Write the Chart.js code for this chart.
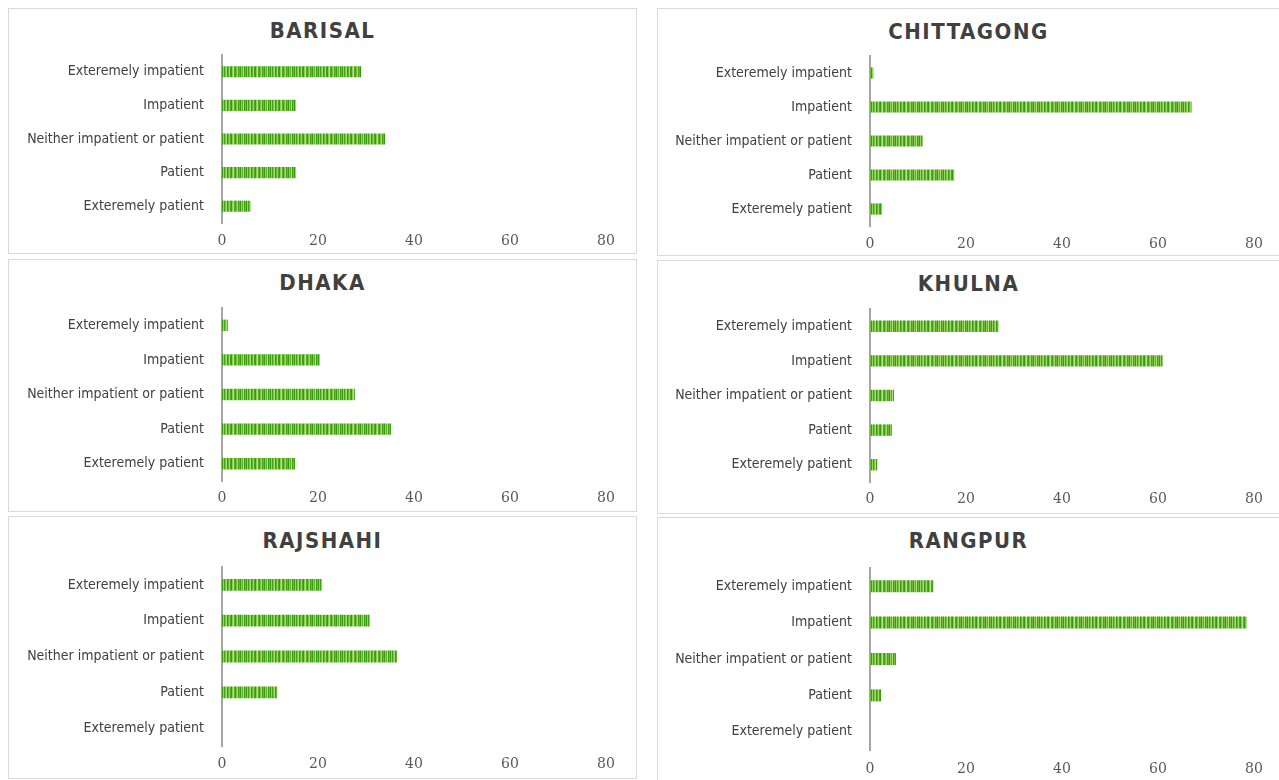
<!DOCTYPE html>
<html>
<head>
<meta charset="utf-8">
<script src="https://cdn.jsdelivr.net/npm/chart.js@4.4.1/dist/chart.umd.min.js"></script>
<style>
  body { margin: 0; background: #fff; width: 1279px; height: 780px; overflow: hidden; position: relative; }
  .panel { position: absolute; border: 1px solid #d9d9d9; box-sizing: border-box; }
  .panel canvas { position: absolute; left: -1px; top: -1px; }
  .panel h2 {
    position: absolute; left: 0; right: 0; margin: 0; text-align: center;
    font: bold 22px "DejaVu Sans Condensed", "DejaVu Sans", sans-serif;
    font-stretch: condensed;
    letter-spacing: 1.5px; color: #404040; line-height: 24px;
  }
</style>
</head>
<body>
<script>
// Survey answers per division (percent of respondents)
const categories = [
  'Exteremely impatient',
  'Impatient',
  'Neither impatient or patient',
  'Patient',
  'Exteremely patient',
];
const regions = ['BARISAL', 'CHITTAGONG', 'DHAKA', 'KHULNA', 'RAJSHAHI', 'RANGPUR'];

const barisal = [29, 15.4, 34, 15.4, 6];
const chittagong = [0.7, 67, 11, 17.6, 2.5];
const dhaka = [1.2, 20.4, 27.7, 35.2, 15.2];
const khulna = [26.8, 61, 5, 4.6, 1.5];
const rajshahi = [20.8, 30.8, 36.5, 11.5, 0];
const rangpur = [13.2, 78.5, 5.4, 2.3, 0];

const xMin = 0;
const xMax = 80;
const xStep = 20;

const seriesByRegion = [barisal, chittagong, dhaka, khulna, rajshahi, rangpur];

// panel box, title centre, plot area and tick row, in page pixels
const panelLayout = [
  { box: [8, 8, 637, 254], titleY: 30, area: [222, 55, 606, 223], tickY: 239 },
  { box: [657, 8, 1280, 256], titleY: 31, area: [870, 56, 1254, 226], tickY: 242 },
  { box: [8, 259, 637, 512], titleY: 282, area: [222, 308, 606, 481], tickY: 496 },
  { box: [657, 260, 1280, 514], titleY: 283, area: [870, 309, 1254, 482], tickY: 497 },
  { box: [8, 516, 637, 779], titleY: 540, area: [222, 567, 606, 746], tickY: 762 },
  { box: [657, 517, 1280, 781], titleY: 540, area: [870, 568, 1254, 750], tickY: 767 },
];

// striped green fill for the bars
function makeStripePattern() {
  const shades = [
    '#46a318', '#7cc446', '#a9dc7c', '#3a9a0f', '#66b832', '#9cd56c', '#4ea820', '#389a0e',
    '#8dcc5a', '#b3e089', '#58af27', '#419f15', '#78c141', '#a4d976', '#46a318', '#6aba36',
    '#3a990f', '#93cf62', '#5cb12a', '#aedd82', '#43a016', '#72be3c', '#3b9a10', '#9ad36a',
  ];
  const c = document.createElement('canvas');
  c.width = shades.length;
  c.height = 4;
  const g = c.getContext('2d');
  shades.forEach((col, i) => {
    g.fillStyle = col;
    g.fillRect(i, 0, 1, 4);
  });
  return g.createPattern(c, 'repeat');
}

const barFill = makeStripePattern();

regions.forEach((name, idx) => {
  const L = panelLayout[idx];
  const [bl, bt, br, bb] = L.box;
  const [al, at, ar, ab] = L.area;

  const panel = document.createElement('div');
  panel.className = 'panel';
  panel.style.left = bl + 'px';
  panel.style.top = bt + 'px';
  panel.style.width = (br - bl) + 'px';
  panel.style.height = (bb - bt) + 'px';

  const title = document.createElement('h2');
  title.textContent = name;
  title.style.top = (L.titleY - bt - 12) + 'px';
  panel.appendChild(title);

  const canvas = document.createElement('canvas');
  canvas.width = br - bl;
  canvas.height = bb - bt;
  panel.appendChild(canvas);
  document.body.appendChild(panel);

  new Chart(canvas, {
    type: 'bar',
    data: {
      labels: categories,
      datasets: [{
        data: seriesByRegion[idx],
        backgroundColor: barFill,
        borderWidth: 0,
        barPercentage: 1,
        categoryPercentage: 0.33,
      }],
    },
    options: {
      indexAxis: 'y',
      responsive: false,
      animation: false,
      events: [],
      layout: { padding: { top: at - bt, right: br - ar, left: 0, bottom: 0 } },
      plugins: { legend: { display: false }, tooltip: { enabled: false } },
      scales: {
        x: {
          min: xMin,
          max: xMax,
          ticks: {
            stepSize: xStep,
            color: '#595959',
            padding: L.tickY - ab - 14,
            font: { family: '"DejaVu Serif", "Liberation Serif", serif', size: 14 },
          },
          grid: { display: false },
          border: { display: false },
          afterFit(scale) { scale.height = bb - ab; },
        },
        y: {
          grid: { display: false },
          border: { display: true, color: '#a6a6a6', width: 2 },
          ticks: {
            color: '#404040',
            padding: 10,
            font: { family: '"DejaVu Sans Condensed", "DejaVu Sans", sans-serif', size: 14 },
          },
          afterFit(scale) { scale.width = al - bl; },
        },
      },
    },
  });
});
</script>
</body>
</html>
